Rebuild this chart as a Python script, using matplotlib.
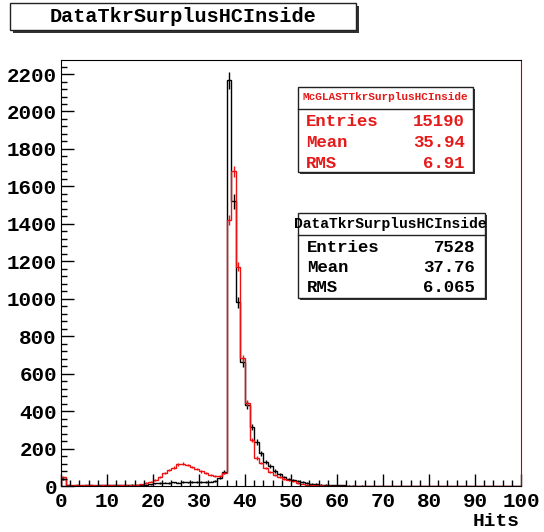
import numpy as np
import matplotlib.pyplot as plt
from matplotlib.patches import Rectangle
from matplotlib.ticker import MultipleLocator

# %%%
'''
                            Histogram contents (100 bins, 0 - 100 hits)
'''

edges = np.arange(0, 101, 1)

data_counts = [40, 3, 2, 3, 2, 4, 3, 2, 3, 4,
               3, 4, 3, 5, 4, 6, 5, 7, 8, 10,
               14, 16, 18, 17, 19, 18, 20, 19, 21, 20,
               22, 21, 24, 26, 45, 75, 2166, 1520, 980, 660,
               432, 315, 235, 176, 128, 107, 80, 64, 48, 37,
               32, 25, 20, 16, 13, 11, 8, 6, 5, 4,
               3, 3, 2, 2, 1, 2, 1, 1, 1, 0,
               1, 0, 1, 0, 0, 1, 0, 0, 0, 0,
               0, 0, 0, 0, 0, 0, 0, 0, 0, 0,
               0, 0, 0, 0, 0, 0, 0, 0, 0, 0]

mc_counts = [50, 4, 3, 4, 3, 3, 4, 3, 4, 3,
             4, 3, 4, 4, 5, 6, 8, 10, 16, 22,
             32, 50, 68, 85, 98, 117, 120, 112, 102, 90,
             78, 68, 60, 55, 52, 70, 1420, 1680, 1170, 683,
             443, 246, 150, 123, 96, 75, 59, 48, 37, 30,
             25, 16, 11, 8, 5, 4, 3, 2, 2, 1,
             1, 1, 1, 0, 1, 0, 0, 0, 0, 0,
             0, 0, 0, 0, 0, 0, 0, 0, 0, 0,
             0, 0, 0, 0, 0, 0, 0, 0, 0, 0,
             0, 0, 0, 0, 0, 0, 0, 0, 0, 0]

title = 'DataTkrSurplusHCInside'
mc_name = 'McGLASTTkrSurplusHCInside'
stat_labels = ['Entries', 'Mean', 'RMS']
mc_stats = ['15190', '35.94', '6.91']
data_stats = ['7528', '37.76', '6.065']

data_counts = np.array(data_counts, dtype=float)
mc_counts = np.array(mc_counts, dtype=float)
centers = 0.5 * (edges[:-1] + edges[1:])
mc_scale = 7528 / 15190
data_err = np.sqrt(data_counts)
mc_err = np.sqrt(mc_counts * mc_scale)

# %%%
'''
                            Figure
'''

W, H = 544, 532
fig = plt.figure(figsize=(W / 100, H / 100), dpi=100)
plt.rcParams['font.family'] = ['Liberation Mono', 'DejaVu Sans Mono']
plt.rcParams['font.weight'] = 'bold'

ax = fig.add_axes([61 / W, 1 - 486 / H, 460 / W, 426 / H])

ax.stairs(data_counts, edges, color='black', lw=1)
m = data_counts > 0
ax.errorbar(centers[m], data_counts[m], yerr=data_err[m], fmt='none', ecolor='black', elinewidth=1)

ax.stairs(mc_counts, edges, color='#ee1111', lw=1)
m = mc_counts > 0
ax.errorbar(centers[m], mc_counts[m], yerr=mc_err[m], fmt='none', ecolor='#ee1111', elinewidth=1)

ax.set_xlim(0, 100)
ax.set_ylim(0, 2275)
ax.xaxis.set_major_locator(MultipleLocator(10))
ax.xaxis.set_minor_locator(MultipleLocator(2))
ax.yaxis.set_major_locator(MultipleLocator(200))
ax.yaxis.set_minor_locator(MultipleLocator(40))
ax.tick_params(which='major', direction='in', length=9, width=1, labelsize=15, pad=4)
ax.tick_params(which='minor', direction='in', length=4.5, width=1)
ax.tick_params(axis='y', pad=3)
for lab in ax.get_xticklabels() + ax.get_yticklabels():
    lab.set_fontweight('bold')
ax.spines['right'].set_color('#c00000')

fig.text(520 / W, 1 - 522 / H, 'Hits', ha='right', va='center', fontsize=14, fontweight='bold')


def box(x0, y0, x1, y1, shadow=3):
    fig.add_artist(Rectangle((x0 / W + shadow / W, 1 - (y1 + shadow) / H), (x1 - x0) / W, (y1 - y0) / H,
                             transform=fig.transFigure, facecolor='#333333', edgecolor='none'))
    fig.add_artist(Rectangle((x0 / W, 1 - y1 / H), (x1 - x0) / W, (y1 - y0) / H,
                             transform=fig.transFigure, facecolor='white', edgecolor='#222222', lw=1))


def hline(x0, x1, y):
    fig.add_artist(plt.Line2D([x0 / W, x1 / W], [1 - y / H, 1 - y / H], transform=fig.transFigure,
                              color='#222222', lw=1))


# title box
box(10, 3, 356, 30)
fig.text(183 / W, 1 - 17 / H, title, ha='center', va='center', fontsize=14.5, fontweight='bold')

# MC stats box
red = '#e51a1a'
box(298, 87, 473, 172, shadow=2)
hline(298, 473, 109)
fig.text(385 / W, 1 - 97 / H, mc_name, ha='center', va='center', fontsize=8, color=red, fontweight='bold')
for i, (l, v) in enumerate(zip(stat_labels, mc_stats)):
    y = 1 - (122 + 20.5 * i) / H
    fig.text(306 / W, y, l, ha='left', va='center', fontsize=12.5, color=red, fontweight='bold')
    fig.text(465 / W, y, v, ha='right', va='center', fontsize=12.5, color=red, fontweight='bold')

# data stats box
box(298, 213, 485, 298, shadow=2)
hline(298, 485, 235)
fig.text(390 / W, 1 - 224 / H, title, ha='center', va='center', fontsize=10.5, fontweight='bold')
for i, (l, v) in enumerate(zip(stat_labels, data_stats)):
    y = 1 - (247 + 20.5 * i) / H
    fig.text(307 / W, y, l, ha='left', va='center', fontsize=12.5, fontweight='bold')
    fig.text(475 / W, y, v, ha='right', va='center', fontsize=12.5, fontweight='bold')

fig.savefig('out.png', dpi=100)
